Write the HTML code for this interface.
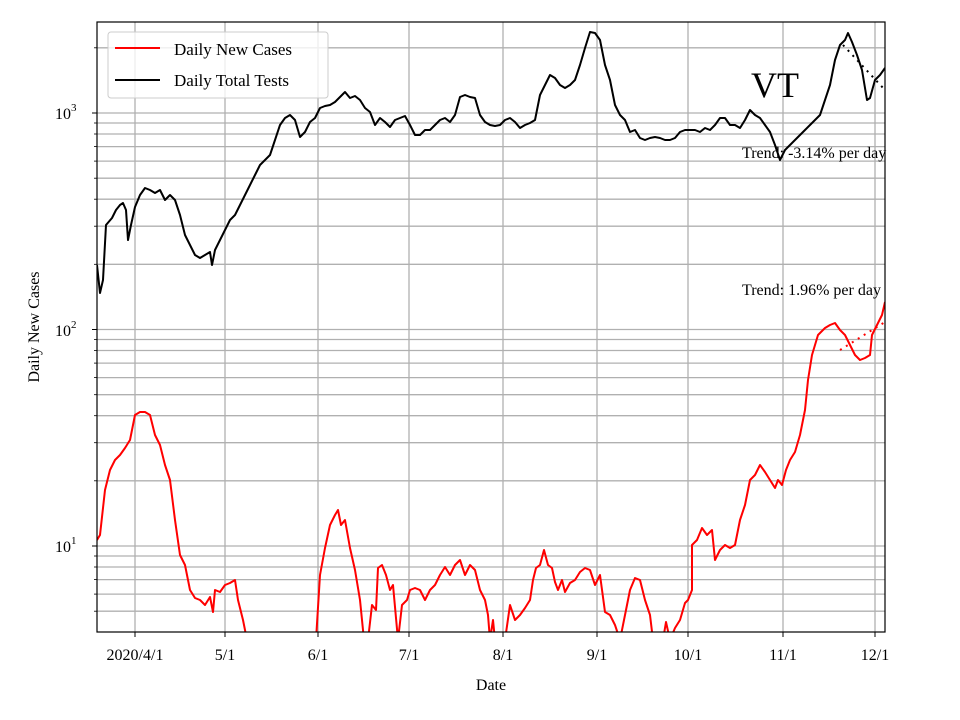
<!DOCTYPE html>
<html><head><meta charset="utf-8"><style>
html,body{margin:0;padding:0;background:#fff;}
svg{display:block;font-family:"Liberation Serif",serif;}
</style></head><body>
<svg width="960" height="720" viewBox="0 0 960 720" xmlns="http://www.w3.org/2000/svg">
<rect width="960" height="720" fill="#fff"/>
<g stroke="#b0b0b0" stroke-width="1.3">
<line x1="135" y1="22" x2="135" y2="632"/><line x1="225" y1="22" x2="225" y2="632"/><line x1="318" y1="22" x2="318" y2="632"/><line x1="409" y1="22" x2="409" y2="632"/><line x1="503" y1="22" x2="503" y2="632"/><line x1="597" y1="22" x2="597" y2="632"/><line x1="688" y1="22" x2="688" y2="632"/><line x1="783" y1="22" x2="783" y2="632"/><line x1="875" y1="22" x2="875" y2="632"/>
<line x1="97" x2="885" y1="611.2" y2="611.2"/><line x1="97" x2="885" y1="594.1" y2="594.1"/><line x1="97" x2="885" y1="579.6" y2="579.6"/><line x1="97" x2="885" y1="567" y2="567"/><line x1="97" x2="885" y1="556" y2="556"/><line x1="97" x2="885" y1="546" y2="546"/>
<line x1="97" x2="885" y1="480.8" y2="480.8"/><line x1="97" x2="885" y1="442.7" y2="442.7"/><line x1="97" x2="885" y1="415.7" y2="415.7"/><line x1="97" x2="885" y1="394.7" y2="394.7"/><line x1="97" x2="885" y1="377.6" y2="377.6"/><line x1="97" x2="885" y1="363.1" y2="363.1"/><line x1="97" x2="885" y1="350.5" y2="350.5"/><line x1="97" x2="885" y1="339.5" y2="339.5"/><line x1="97" x2="885" y1="329.5" y2="329.5"/>
<line x1="97" x2="885" y1="264.3" y2="264.3"/><line x1="97" x2="885" y1="226.2" y2="226.2"/><line x1="97" x2="885" y1="199.2" y2="199.2"/><line x1="97" x2="885" y1="178.2" y2="178.2"/><line x1="97" x2="885" y1="161.1" y2="161.1"/><line x1="97" x2="885" y1="146.6" y2="146.6"/><line x1="97" x2="885" y1="134" y2="134"/><line x1="97" x2="885" y1="123" y2="123"/><line x1="97" x2="885" y1="113" y2="113"/><line x1="97" x2="885" y1="47.8" y2="47.8"/>
</g>
<defs><clipPath id="c"><rect x="97" y="22" width="788" height="610"/></clipPath></defs>
<g clip-path="url(#c)" fill="none" stroke-width="2" stroke-linejoin="round">
<polyline stroke="#000" points="97,265 100,293 103,280 106,225 112,218 116,210 120,205 123,203 126,210 128,240 131,225 135,207 140,195 145,188 150,190 155,193 160,190 165,200 170,195 175,200 180,215 185,235 190,245 195,255 200,258 205,255 210,252 212,265 215,250 220,240 225,230 230,220 235,215 240,205 245,195 250,185 255,175 260,165 265,160 270,155 275,140 280,125 285,118 290,115 295,120 300,137 305,132 310,122 315,118 320,108 325,106 330,105 335,102 340,97 345,92 350,98 355,96 360,100 365,108 370,112 375,125 380,118 385,122 390,127 395,120 400,118 405,116 410,125 415,135 420,135 425,130 430,130 435,125 440,120 445,118 450,122 455,115 460,97 465,95 470,97 475,98 480,115 485,122 490,125 495,126 500,125 505,120 510,118 515,122 520,128 525,125 530,123 535,120 540,95 545,85 550,75 555,78 560,85 565,88 570,85 575,80 580,65 585,48 590,32 595,33 600,40 605,65 610,80 615,105 620,115 625,120 630,132 635,130 640,138 645,140 650,138 655,137 660,138 665,140 670,140 675,138 680,132 685,130 690,130 695,130 700,132 705,128 710,130 715,125 720,118 725,118 730,125 735,125 740,128 745,120 750,110 755,115 760,118 765,125 770,132 775,145 780,160 785,150 790,145 795,140 800,135 805,130 810,125 815,120 820,115 825,100 830,85 835,60 840,45 845,40 848,33 852,42 857,55 862,70 867,100 870,98 875,80 880,75 885,68"/>
<polyline stroke="#f00" points="97,540 100,535 105,490 110,470 115,460 120,455 125,448 130,440 135,415 140,412 145,412 150,415 155,435 160,445 165,465 170,480 175,520 180,555 185,565 190,590 195,598 200,600 205,605 210,597 213,612 215,590 220,592 225,585 230,583 235,580 238,600 243,620 247,640"/>
<polyline stroke="#f00" points="316,640 320,575 325,548 330,525 335,515 338,510 341,525 345,520 350,548 355,570 360,600 364,640"/>
<polyline stroke="#f00" points="368,640 372,605 376,610 378,568 382,565 386,575 390,590 393,585 398,640 402,605 407,600 410,590 415,588 420,590 425,600 430,590 435,585 440,575 445,567 450,575 455,565 460,560 465,575 470,565 475,570 480,590 485,600 488,615 490,640 493,620 495,640"/>
<polyline stroke="#f00" points="505,640 510,605 515,620 520,615 525,608 530,600 533,580 536,568 540,565 544,550 548,565 552,568 555,582 558,590 562,580 565,592 570,583 575,580 580,572 585,568 590,570 595,585 600,575 605,612 610,615 615,625 620,640 625,615 630,590 635,578 640,580 645,600 650,615 653,640"/>
<polyline stroke="#f00" points="663,640 666,622 670,640 675,628 680,620 685,603 688,600 692,590 692,545 697,540 702,528 707,535 712,530 715,560 720,550 725,545 730,548 735,545 740,520 745,505 750,480 755,475 760,465 765,472 770,480 775,488 778,480 782,485 786,470 790,460 795,452 800,435 805,410 808,380 812,355 818,335 825,328 830,325 835,323 840,330 845,335 850,345 855,355 860,360 865,358 870,355 872,335 877,325 882,315 885,302"/>
<line x1="843" y1="45" x2="885" y2="90" stroke="#000" stroke-dasharray="2,5"/>
<line x1="840" y1="350" x2="885" y2="322" stroke="#f00" stroke-dasharray="2,5"/>
</g>
<rect x="97" y="22" width="788" height="610" fill="none" stroke="#000" stroke-width="1.2"/>
<g stroke="#000" stroke-width="1">
<line x1="135" y1="632" x2="135" y2="637"/><line x1="225" y1="632" x2="225" y2="637"/><line x1="318" y1="632" x2="318" y2="637"/><line x1="409" y1="632" x2="409" y2="637"/><line x1="503" y1="632" x2="503" y2="637"/><line x1="597" y1="632" x2="597" y2="637"/><line x1="688" y1="632" x2="688" y2="637"/><line x1="783" y1="632" x2="783" y2="637"/><line x1="875" y1="632" x2="875" y2="637"/>
<line x1="92" x2="97" y1="546" y2="546"/><line x1="92" x2="97" y1="329.5" y2="329.5"/><line x1="92" x2="97" y1="113" y2="113"/>
</g>
<g stroke="#000" stroke-width="0.8">
<line x1="94" x2="97" y1="611.2" y2="611.2"/><line x1="94" x2="97" y1="594.1" y2="594.1"/><line x1="94" x2="97" y1="579.6" y2="579.6"/><line x1="94" x2="97" y1="567" y2="567"/><line x1="94" x2="97" y1="556" y2="556"/>
<line x1="94" x2="97" y1="480.8" y2="480.8"/><line x1="94" x2="97" y1="442.7" y2="442.7"/><line x1="94" x2="97" y1="415.7" y2="415.7"/><line x1="94" x2="97" y1="394.7" y2="394.7"/><line x1="94" x2="97" y1="377.6" y2="377.6"/><line x1="94" x2="97" y1="363.1" y2="363.1"/><line x1="94" x2="97" y1="350.5" y2="350.5"/><line x1="94" x2="97" y1="339.5" y2="339.5"/>
<line x1="94" x2="97" y1="264.3" y2="264.3"/><line x1="94" x2="97" y1="226.2" y2="226.2"/><line x1="94" x2="97" y1="199.2" y2="199.2"/><line x1="94" x2="97" y1="178.2" y2="178.2"/><line x1="94" x2="97" y1="161.1" y2="161.1"/><line x1="94" x2="97" y1="146.6" y2="146.6"/><line x1="94" x2="97" y1="134" y2="134"/><line x1="94" x2="97" y1="123" y2="123"/><line x1="94" x2="97" y1="47.8" y2="47.8"/>
</g>
<g font-size="16" fill="#000" text-anchor="middle">
<text x="135" y="660">2020/4/1</text><text x="225" y="660">5/1</text><text x="318" y="660">6/1</text><text x="409" y="660">7/1</text><text x="503" y="660">8/1</text><text x="597" y="660">9/1</text><text x="688" y="660">10/1</text><text x="783" y="660">11/1</text><text x="875" y="660">12/1</text>
<text x="491" y="690">Date</text>
</g>
<g font-size="16" fill="#000">
<text x="55" y="552">10<tspan font-size="11" dy="-8">1</tspan></text>
<text x="55" y="336">10<tspan font-size="11" dy="-8">2</tspan></text>
<text x="55" y="119">10<tspan font-size="11" dy="-8">3</tspan></text>
<text transform="translate(39,327) rotate(-90)" text-anchor="middle">Daily New Cases</text>
<text x="742" y="158">Trend: -3.14% per day</text>
<text x="742" y="295">Trend: 1.96% per day</text>
<text x="751" y="97" font-size="36">VT</text>
</g>
<rect x="108" y="32" width="220" height="66" rx="3" fill="#fff" fill-opacity="0.8" stroke="#ccc"/>
<line x1="115" y1="48" x2="160" y2="48" stroke="#f00" stroke-width="2"/>
<line x1="115" y1="80" x2="160" y2="80" stroke="#000" stroke-width="2"/>
<text x="174" y="55" font-size="17">Daily New Cases</text>
<text x="174" y="86" font-size="17">Daily Total Tests</text>
</svg>
</body></html>
